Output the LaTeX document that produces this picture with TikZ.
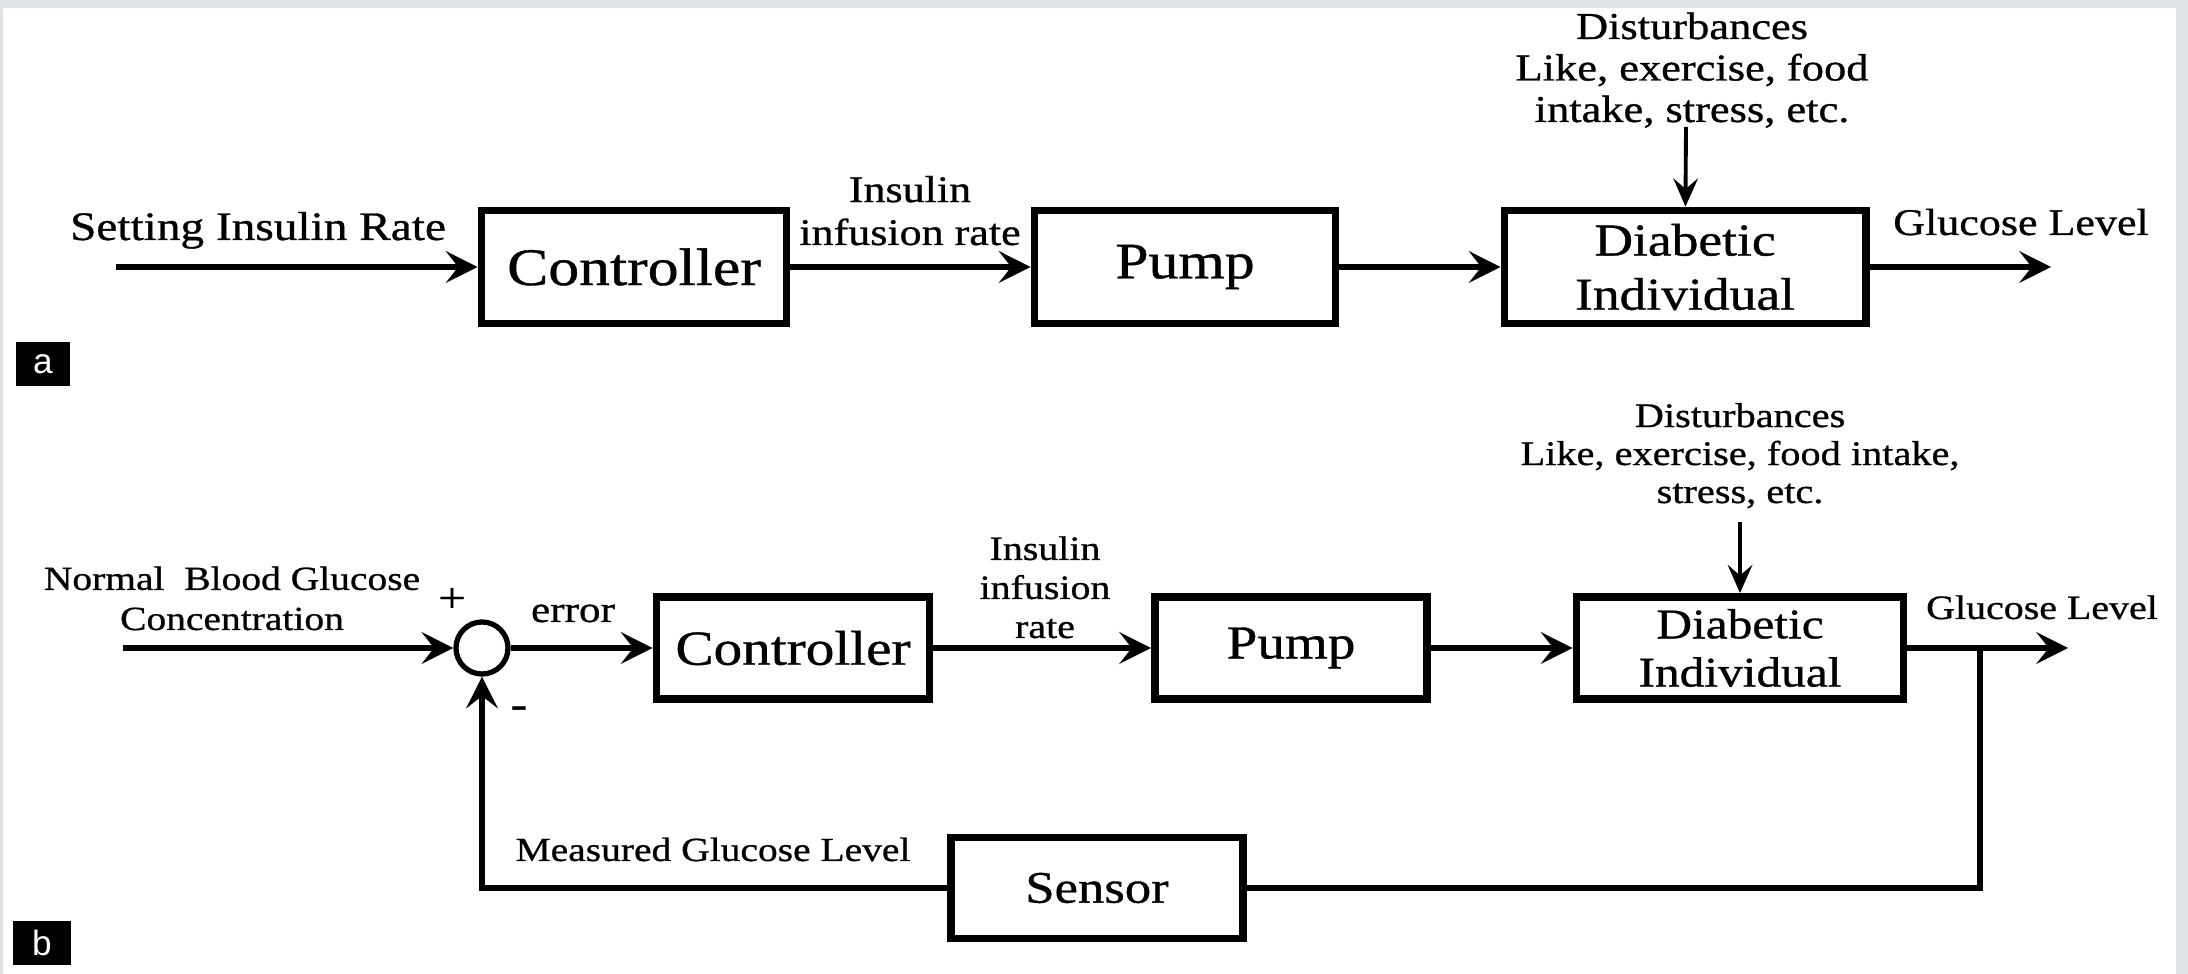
\documentclass[tikz,border=0pt]{standalone}
\usepackage{fontspec}
\setmainfont{Liberation Serif}[FakeStretch=1.17, FakeBold=0.8]
\newfontfamily\tagfont{Liberation Sans}
\usetikzlibrary{arrows.meta}
\newcommand{\fsz}[2]{\fontsize{#1pt}{#2pt}\selectfont}
\definecolor{framegray}{RGB}{224,228,231}

\begin{document}
\begin{tikzpicture}[x=0.01cm, y=-0.01cm,
	block/.style={draw, line width=2.2pt, minimum height=1.13cm, inner sep=0pt, align=center},
	sig/.style={line width=1.7pt, -{Stealth[length=9pt, width=9pt, inset=3.5pt]}},
	thin sig/.style={line width=1.1pt, -{Stealth[length=8pt, width=7pt, inset=3pt]}},
	lbl/.style={inner sep=0pt, anchor=base, align=center},
	tag/.style={fill=black, text=white, minimum width=0.53cm, minimum height=0.43cm, inner sep=0pt, font=\tagfont\fsz{10}{12}}]
	\useasboundingbox (0,0) rectangle (2188,974);
	% frame
	\fill[framegray] (0,0) rectangle (2188,8);
	\fill[framegray] (0,0) rectangle (3,974);
	\fill[framegray] (2176,0) rectangle (2188,974);

	% (a) open loop
	\begin{scope}
		\node[block, minimum width=3.05cm, font=\fsz{15}{18}] (ctrlA) at (634,267) {Controller};
		\node[block, minimum width=3.01cm, font=\fsz{14.5}{17}] (pumpA) at (1185,267) {Pump};
		\node[block, minimum width=3.61cm, font=\fsz{13}{15.4}] (diabA) at (1685,267) {Diabetic\\Individual};
		\coordinate (inA) at (116,267);
		\coordinate (outA) at (2051,267);
		\coordinate (distA) at (1686,127);
		\draw[sig] (inA) -- (ctrlA);
		\draw[sig] (ctrlA) -- (pumpA);
		\draw[sig] (pumpA) -- (diabA);
		\draw[sig] (diabA) -- (outA);
		\draw[thin sig] (distA) -- (diabA);
		\node[lbl, font=\fsz{11.5}{13}] (setA) at (258,240) {Setting Insulin Rate};
		\node[lbl, font=\fsz{10.7}{12.2}] (rateA) at (910,245) {Insulin\\infusion rate};
		\node[lbl, font=\fsz{10.7}{12}] (glucA) at (2021,235) {Glucose Level};
		\node[lbl, font=\fsz{10.8}{11.8}] (distxtA) at (1692,122) {Disturbances\\Like, exercise, food\\intake, stress, etc.};
		\node[tag] (tagA) at (43,364) {a};
	\end{scope}

	% (b) closed loop
	\begin{scope}
		\node[draw, circle, line width=1.5pt, minimum size=0.52cm, inner sep=0pt] (sum) at (482,648) {};
		\node[block, minimum width=2.73cm, minimum height=1.02cm, font=\fsz{13.9}{16}] (ctrlB) at (793,648) {Controller};
		\node[block, minimum width=2.72cm, minimum height=1.02cm, font=\fsz{13.4}{16}] (pumpB) at (1291,648) {Pump};
		\node[block, minimum width=3.27cm, minimum height=1.02cm, font=\fsz{12}{13.7}] (diabB) at (1740,648) {Diabetic\\Individual};
		\node[block, minimum width=2.92cm, minimum height=1.01cm, font=\fsz{12.8}{15}] (sensor) at (1097,888) {Sensor};
		\coordinate (inB) at (123,648);
		\coordinate (outB) at (2068,648);
		\coordinate (tapB) at (1980,648);
		\coordinate (distB) at (1740,522);
		\draw[sig] (inB) -- (sum);
		\draw[sig] (sum) -- (ctrlB);
		\draw[sig] (ctrlB) -- (pumpB);
		\draw[sig] (pumpB) -- (diabB);
		\draw[sig] (diabB) -- (outB);
		\draw[thin sig] (distB) -- (diabB);
		\draw[line width=1.5pt] (tapB) |- (sensor);
		\draw[sig, line width=1.5pt] (sensor) -| (sum);
		\node[lbl, font=\fsz{9.6}{11.4}] (normB) at (232,630) {Normal\ \ Blood Glucose\\Concentration};
		\node[lbl, font=\fsz{12}{14}] (plus) at (452,612) {+};
		\node[lbl, font=\fsz{12}{14}] (minus) at (519,718) {-};
		\node[lbl, font=\fsz{10.5}{12}] (err) at (573,622) {error};
		\node[lbl, font=\fsz{9.7}{11.1}] (rateB) at (1045,638) {Insulin\\infusion\\rate};
		\node[lbl, font=\fsz{9.7}{11}] (glucB) at (2042,619) {Glucose Level};
		\node[lbl, font=\fsz{9.8}{10.8}] (distxtB) at (1740,503) {Disturbances\\Like, exercise, food intake,\\stress, etc.};
		\node[lbl, font=\fsz{9.6}{11}] (meas) at (713,861) {Measured Glucose Level};
		\node[tag, minimum width=0.57cm] (tagB) at (42,943) {b};
	\end{scope}
\end{tikzpicture}
\end{document}
